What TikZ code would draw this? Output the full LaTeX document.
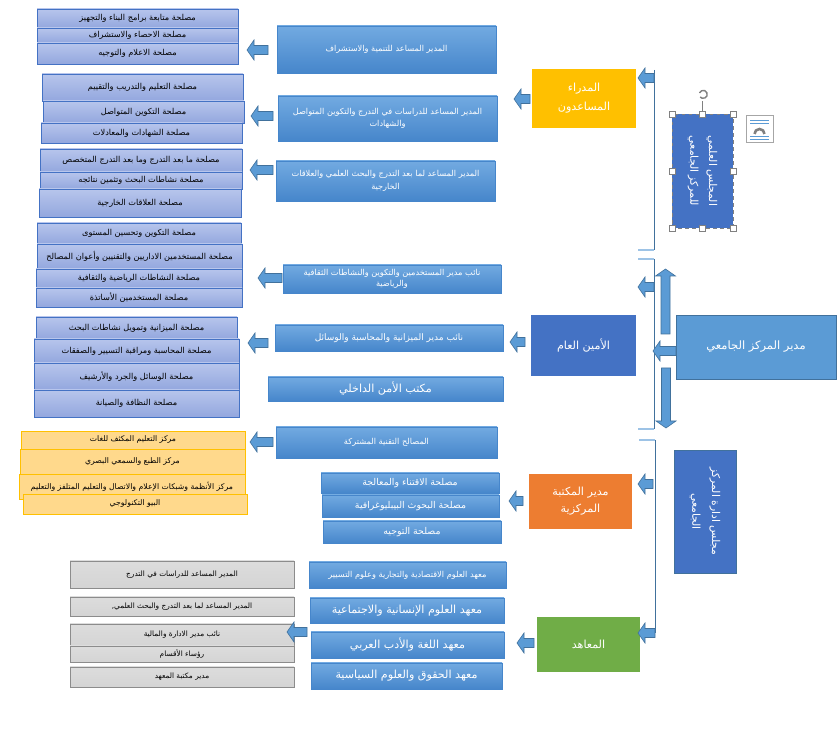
\documentclass[tikz,border=0pt]{standalone}
\usepackage{fontspec}
\usepackage{tikz}
\usetikzlibrary{shadows}
\newfontfamily\arabicfont[Script=Arabic]{DejaVu Sans}
\TeXXeTstate=1
\newcommand\artx[1]{{\arabicfont\beginR #1\endR}}
\definecolor{lboxtop}{HTML}{B7C5EC}
\definecolor{lboxbot}{HTML}{93A7DE}
\definecolor{lboxline}{HTML}{4472C4}
\definecolor{mtop}{HTML}{72AAE1}
\definecolor{mbot}{HTML}{4686CB}
\definecolor{gboxfill}{HTML}{D4D4D4}
\definecolor{gboxline}{HTML}{8C8C8C}
\definecolor{oboxfill}{HTML}{FFD98C}
\definecolor{oboxline}{HTML}{FFC000}
\definecolor{ayellow}{HTML}{FFC000}
\definecolor{adark}{HTML}{4472C4}
\definecolor{aorange}{HTML}{ED7D31}
\definecolor{agreen}{HTML}{70AD47}
\definecolor{amid}{HTML}{5B9BD5}
\definecolor{aline}{HTML}{41719C}
\definecolor{atick}{HTML}{9DC3E6}

\begin{document}
\begin{tikzpicture}[x=0.3mm,y=-0.3mm,
    every node/.style={inner sep=0pt},
    sz/.style 2 args={minimum width=#1*0.3mm,minimum height=#2*0.3mm},
    lbox/.style={draw=lboxline,top color=lboxtop,bottom color=lboxbot,font=\fontsize{7}{8}\selectfont},
    obox/.style={draw=oboxline,fill=oboxfill,font=\fontsize{6.6}{8}\selectfont},
    gbox/.style={draw=gboxline,top color=gboxfill!80!white,bottom color=gboxfill,font=\fontsize{6.3}{7.5}\selectfont},
    mbox/.style={draw=mbot,line width=0.2pt,top color=mtop,bottom color=mbot,text=white,align=center,
        drop shadow={opacity=0.35,shadow xshift=0.7pt,shadow yshift=-0.9pt},font=\fontsize{7}{10.5}\selectfont},
    cbox/.style={text=white,align=center,font=\fontsize{9.5}{16}\selectfont},
    arrowbody/.style={draw=aline,fill=amid,line width=0.5pt},
    bline/.style={draw=aline,line width=0.8pt},
    ltick/.style={draw=atick,line width=1pt},
    pics/larrow/.style={code={\draw[arrowbody] (0,0) -- (7,-10) -- (7,-4.5) -- (#1,-4.5) -- (#1,4.5) -- (7,4.5) -- (7,10) -- cycle;}}
]
\useasboundingbox (0,0) rectangle (840,734);

% left column: services
\node[lbox,sz={201}{19}] (a1) at (137.5,18.5) {\artx{مصلحة متابعة برامج البناء والتجهيز}};
\node[lbox,sz={201}{15}] (a2) at (137.5,35.5) {\artx{مصلحة الاحصاء والاستشراف}};
\node[lbox,sz={201}{21}] (a3) at (137.5,53.5) {\artx{مصلحة الاعلام والتوجيه}};
\node[lbox,sz={201}{27}] (b1) at (142.5,87.5) {\artx{مصلحة التعليم والتدريب والتقييم}};
\node[lbox,sz={201}{22}] (b2) at (143.5,112) {\artx{مصلحة التكوين المتواصل}};
\node[lbox,sz={201}{20}] (b3) at (141.5,133) {\artx{مصلحة الشهادات والمعادلات}};
\node[lbox,sz={202}{23}] (c1) at (141,160.5) {\artx{مصلحة ما بعد التدرج وما بعد التدرج المتخصص}};
\node[lbox,sz={202}{17}] (c2) at (141,180.5) {\artx{مصلحة نشاطات البحث وتثمين نتائجه}};
\node[lbox,sz={202}{28}] (c3) at (140,203) {\artx{مصلحة العلاقات الخارجية}};
\node[lbox,sz={204}{21}] (d1) at (139,233.5) {\artx{مصلحة التكوين وتحسين المستوى}};
\node[lbox,sz={205}{25}] (d2) at (139.5,256.5) {\artx{مصلحة   المستخدمين الاداريين والتقنيين وأعوان المصالح}};
\node[lbox,sz={206}{19}] (d3) at (139,278.5) {\artx{مصلحة  النشاطات الرياضية والثقافية}};
\node[lbox,sz={206}{19}] (d4) at (139,297.5) {\artx{مصلحة   المستخدمين الأساتذة}};
\node[lbox,sz={201}{22}] (e1) at (136.5,328) {\artx{مصلحة   الميزانية وتمويل نشاطات البحث}};
\node[lbox,sz={205}{24}] (e2) at (136.5,351) {\artx{مصلحة   المحاسبة ومراقبة التسيير والصفقات}};
\node[lbox,sz={205}{27}] (e3) at (136.5,376.5) {\artx{مصلحة   الوسائل والجرد والأرشيف}};
\node[lbox,sz={205}{27}] (e4) at (136.5,403.5) {\artx{مصلحة   النظافة والصيانة}};
\node[obox,sz={224}{18}] (f1) at (133,440) {\artx{مركز التعليم المكثف للغات}};
\node[obox,sz={225}{25}] (f2) at (132.5,461.5) {\artx{مركز الطبع والسمعي البصري}};
\node[obox,sz={226}{25}] (f3) at (132,486.5) {\artx{مركز الأنظمة وشبكات الإعلام والاتصال والتعليم المتلفز والتعليم}};
\node[obox,sz={224}{20}] (f4) at (135,504) {\artx{البيو التكنولوجي}};
\node[gbox,sz={224}{27}] (g1) at (182,574.5) {\artx{المدير المساعد للدراسات في التدرج}};
\node[gbox,sz={224}{19}] (g2) at (182,606.5) {\artx{المدير المساعد لما بعد التدرج والبحث العلمي,}};
\node[gbox,sz={224}{22}] (g3) at (182,635) {\artx{نائب مدير الادارة والمالية}};
\node[gbox,sz={224}{16}] (g4) at (182,654) {\artx{رؤساء الأقسام}};
\node[gbox,sz={224}{20}] (g5) at (182,677) {\artx{مدير مكتبة المعهد}};

% middle column
\node[mbox,sz={219}{47}] (h1) at (386.5,49.5) {\artx{المدير المساعد للتنمية والاستشراف}};
\node[mbox,sz={219}{45}] (h2) at (387.5,118.5) {\artx{المدير المساعد للدراسات في التدرج والتكوين المتواصل}\\\artx{والشهادات}};
\node[mbox,sz={219}{40}] (h3) at (385.5,181) {\artx{المدير المساعد لما بعد التدرج والبحث العلمي والعلاقات}\\\artx{الخارجية}};
\node[mbox,sz={218}{28},font=\fontsize{7}{9}\selectfont] (i1) at (392,279) {\artx{نائب مدير المستخدمين والتكوين والنشاطات الثقافية}\\\artx{والرياضية}};
\node[mbox,sz={228}{26},font=\fontsize{7.7}{9}\selectfont] (i2) at (389,338) {\artx{نائب مدير الميزانية والمحاسبة والوسائل}};
\node[mbox,sz={235}{24},font=\fontsize{9.5}{11}\selectfont] (i3) at (385.5,389) {\artx{مكتب الأمن الداخلي}};
\node[mbox,sz={221}{31}] (i4) at (386.5,442.5) {\artx{المصالح التقنية المشتركة}};
\node[mbox,sz={178}{20},font=\fontsize{8}{9}\selectfont] (j1) at (410,483) {\artx{مصلحة الاقتناء والمعالجة}};
\node[mbox,sz={177}{22},font=\fontsize{8}{9}\selectfont] (j2) at (410.5,506) {\artx{مصلحة البحوث البيبليوغرافية}};
\node[mbox,sz={178}{22},font=\fontsize{8}{9}\selectfont] (j3) at (412,532) {\artx{مصلحة التوجيه}};
\node[mbox,sz={197}{26}] (k1) at (407.5,575) {\artx{معهد العلوم الاقتصادية والتجارية وعلوم التسيير}};
\node[mbox,sz={194}{25},font=\fontsize{9.5}{11}\selectfont] (k2) at (407,610.5) {\artx{معهد العلوم الإنسانية والاجتماعية}};
\node[mbox,sz={193}{26},font=\fontsize{9.5}{11}\selectfont] (k3) at (407.5,645) {\artx{معهد اللغة والأدب العربي}};
\node[mbox,sz={191}{26},font=\fontsize{9.5}{11}\selectfont] (k4) at (406.5,676) {\artx{معهد الحقوق والعلوم السياسية}};

% right: heads of branches
\node[cbox,fill=ayellow,sz={104}{59}] (assist) at (584,98.5) {\artx{المدراء}\\\artx{المساعدون}};
\node[cbox,fill=adark,sz={105}{61}] (secgen) at (583.5,345.5) {\artx{الأمين العام}};
\node[cbox,fill=aorange,sz={103}{55},font=\fontsize{9.5}{14.5}\selectfont] (library) at (580.5,501.5) {\artx{مدير المكتبة}\\\artx{المركزية}};
\node[cbox,fill=agreen,sz={103}{55}] (institutes) at (588.5,644.5) {\artx{المعاهد}};
\node[cbox,fill=amid,draw=aline,sz={160}{64},font=\fontsize{9.8}{12}\selectfont] (director) at (756,347) {\artx{مدير المركز الجامعي}};
\node[cbox,fill=adark,draw=gray,dashed,rotate=-90,sz={114}{61},font=\fontsize{9.2}{16}\selectfont] (sci) at (702.5,171) {\artx{المجلس العلمي}\\\artx{للمركز الجامعي}};
\node[cbox,fill=adark,draw=aline,rotate=-90,sz={123}{62},font=\fontsize{9.2}{17}\selectfont] (board) at (705,511.5) {\artx{مجلس ادارة المركز}\\\artx{الجامعي}};

% selection handles round sci
\draw[gray] (702.5,114) -- (702.5,101);
\draw[gray,line width=1.2pt] (699.5,93) arc[start angle=200,end angle=500,radius=4];
\foreach \hx/\hy in {672/114,702.5/114,733/114,672/171,733/171,672/228,702.5/228,733/228}
    \draw[gray,fill=white] (\hx-3,\hy-3) rectangle (\hx+3,\hy+3);
\draw[gray!70,fill=white] (746,115) rectangle (773,142);
\foreach \ly in {120,123,136,139}
    \draw[amid,line width=0.6pt] (750,\ly) -- (769,\ly);
\draw[gray,line width=2.2pt] (754.5,134) arc[start angle=180,end angle=360,radius=5];

% brackets
\draw[bline] (654,70) -- (654,250);
\draw[ltick] (638,250) -- (654,250);
\draw[ltick] (638,259) -- (654,259);
\draw[bline] (654,259) -- (654,429);
\draw[ltick] (638,429) -- (654,429);
\draw[ltick] (639,440) -- (655,440);
\draw[bline] (655,440) -- (655,633);

% block arrows
\pic at (638,78) {larrow=16};
\pic at (514,99) {larrow=16};
\pic at (638,287) {larrow=16};
\pic at (653,351) {larrow=23};
\pic at (510,342) {larrow=15};
\pic at (638,484) {larrow=15};
\pic at (509,501) {larrow=14};
\pic at (638,633) {larrow=17};
\pic at (517,643) {larrow=17};
\pic[rotate=-90] at (665.5,269) {larrow=65};
\pic[rotate=90] at (666,428) {larrow=60};
\pic at (247,50) {larrow=21};
\pic at (251,116) {larrow=22};
\pic at (250,170) {larrow=23};
\pic at (258,278) {larrow=24};
\pic at (248,343) {larrow=20};
\pic at (250,442) {larrow=23};
\pic at (287,632) {larrow=20};
\end{tikzpicture}
\end{document}
